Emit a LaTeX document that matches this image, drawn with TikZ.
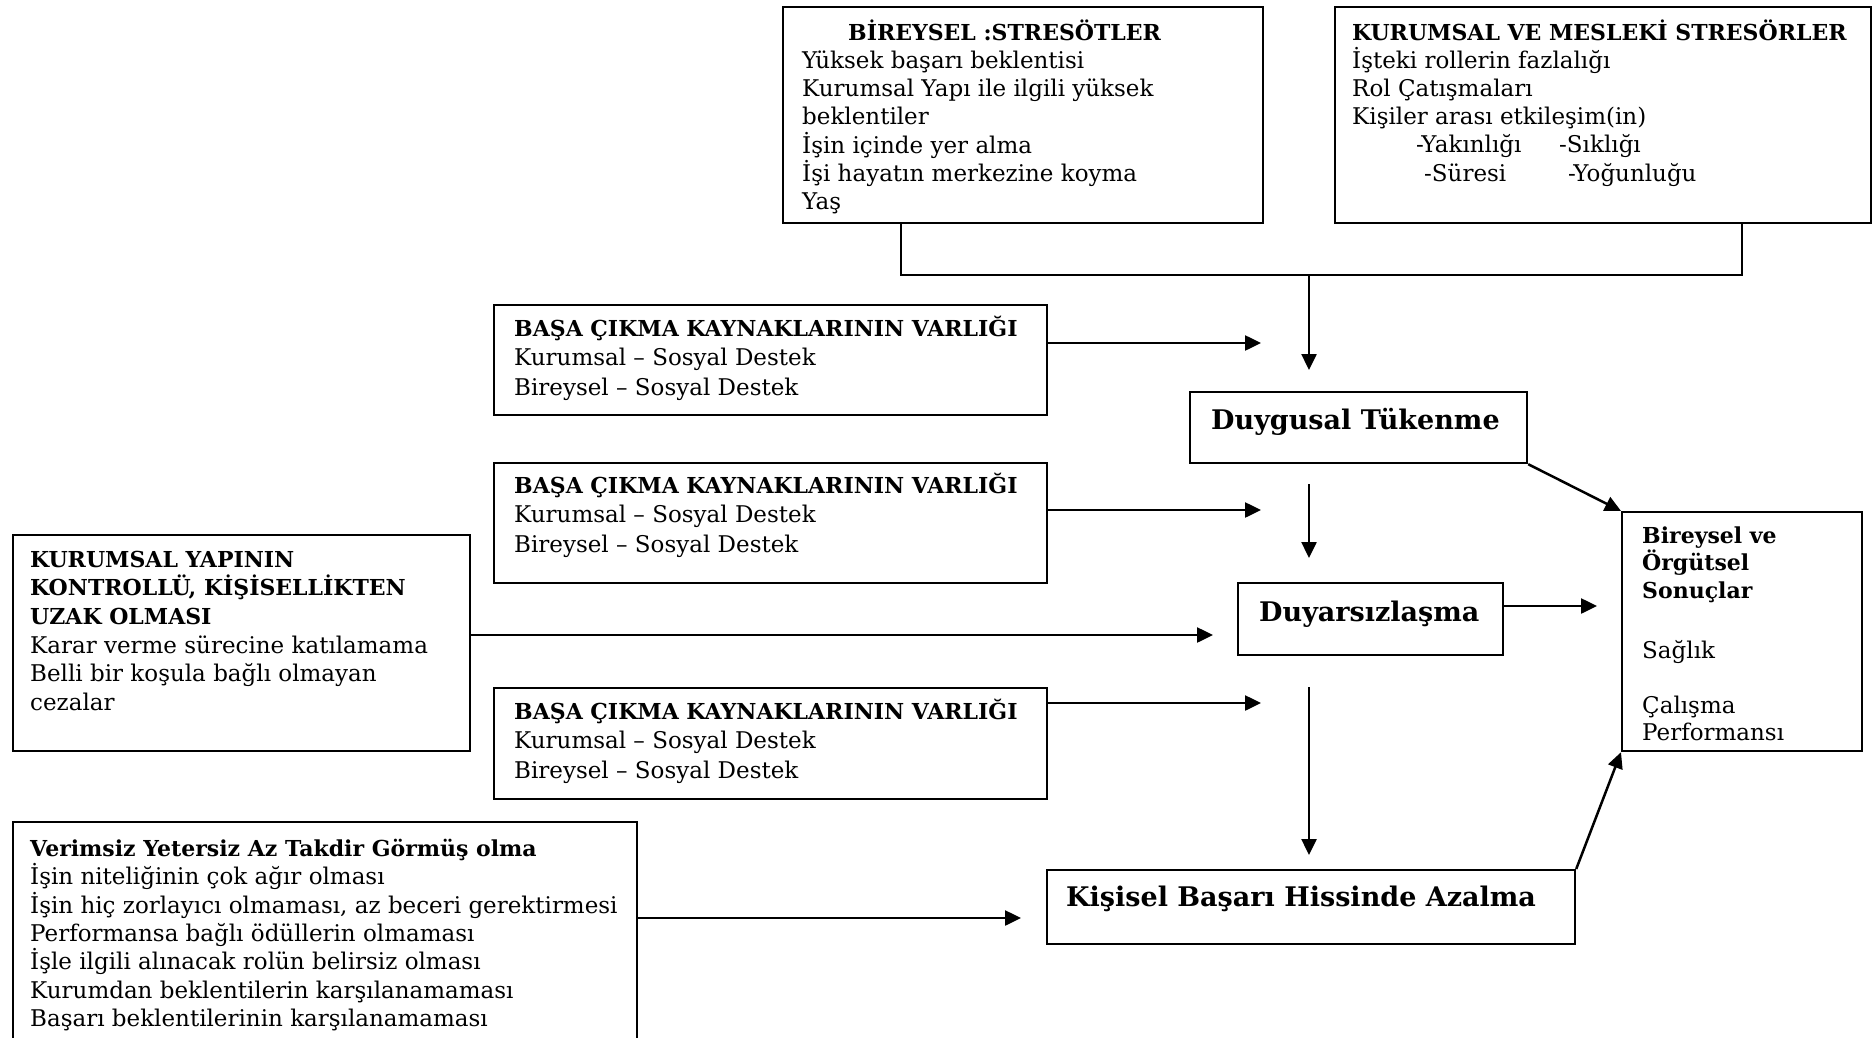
\documentclass[tikz,border=0pt]{standalone}
\usepackage{fontspec}
\setmainfont{DejaVu Serif}
\usetikzlibrary{arrows.meta}
\newcommand{\rfs}{\fontsize{23}{28.2}\selectfont}
\newcommand{\bfs}{\fontsize{22}{28.2}\selectfont\bfseries}
\newcommand{\hfs}{\fontsize{27}{30}\selectfont\bfseries}
\newcommand{\tstrut}{\rule{0pt}{26pt}}
\tikzset{
  box/.style={draw, line width=2.2pt, inner sep=0pt, anchor=north west},
  txt/.style={anchor=north west, inner sep=0pt, align=left, font=\rfs},
  head/.style={anchor=base west, inner sep=0pt, font=\hfs},
  conn/.style={line width=2.5pt},
  arr/.style={line width=2.5pt, -{Triangle[length=16pt,width=15pt]}},
}
\begin{document}
\begin{tikzpicture}[x=1pt,y=-1pt]
\useasboundingbox (0,0) rectangle (1872,1038);
% boxes
\node[box, minimum width=480pt, minimum height=216pt] (bind) at (782,6) {};
\node[box, minimum width=536pt, minimum height=216pt] (borg) at (1334,6) {};
\node[box, minimum width=553pt, minimum height=110pt] (cop1) at (493,304) {};
\node[box, minimum width=553pt, minimum height=120pt] (cop2) at (493,462) {};
\node[box, minimum width=553pt, minimum height=111pt] (cop3) at (493,687) {};
\node[box, minimum width=457pt, minimum height=216pt] (kyap) at (12,534) {};
\node[box, minimum width=624pt, minimum height=222pt] (verim) at (12,821) {};
\node[box, minimum width=337pt, minimum height=71pt] (dt) at (1189,391) {};
\node[box, minimum width=265pt, minimum height=72pt] (dy) at (1237,582) {};
\node[box, minimum width=528pt, minimum height=74pt] (kb) at (1046,869) {};
\node[box, minimum width=240pt, minimum height=239pt] (sonuc) at (1621,511) {};
% texts (top = first baseline - 26)
\node[txt] (bindt) at (802,14) {\tstrut\bfs\hspace*{46pt}BİREYSEL :STRESÖTLER\\
Yüksek başarı beklentisi\\
Kurumsal Yapı ile ilgili yüksek\\
beklentiler\\
İşin içinde yer alma\\
İşi hayatın merkezine koyma\\
Yaş};
\node[txt] (borgt) at (1352,14) {\tstrut\bfs KURUMSAL VE MESLEKİ STRESÖRLER\\
İşteki rollerin fazlalığı\\
Rol Çatışmaları\\
Kişiler arası etkileşim(in)\\
\hspace*{64pt}\makebox[143pt][l]{-Yakınlığı}-Sıklığı\\
\hspace*{72pt}\makebox[144pt][l]{-Süresi}-Yoğunluğu};
\node[txt, font=\fontsize{23}{29.6}\selectfont] (cop1t) at (514,310) {\tstrut\bfs BAŞA ÇIKMA KAYNAKLARININ VARLIĞI\\
Kurumsal – Sosyal Destek\\
Bireysel – Sosyal Destek};
\node[txt, font=\fontsize{23}{29.6}\selectfont] (cop2t) at (514,467) {\tstrut\bfs BAŞA ÇIKMA KAYNAKLARININ VARLIĞI\\
Kurumsal – Sosyal Destek\\
Bireysel – Sosyal Destek};
\node[txt, font=\fontsize{23}{29.6}\selectfont] (cop3t) at (514,693) {\tstrut\bfs BAŞA ÇIKMA KAYNAKLARININ VARLIĞI\\
Kurumsal – Sosyal Destek\\
Bireysel – Sosyal Destek};
\node[txt, font=\fontsize{23}{28.6}\selectfont] (kyapt) at (30,541) {\tstrut\bfs KURUMSAL YAPININ\\
\bfs KONTROLLÜ, KİŞİSELLİKTEN\\
\bfs UZAK OLMASI\\
Karar verme sürecine katılamama\\
Belli bir koşula bağlı olmayan\\
cezalar};
\node[txt, font=\fontsize{23}{28.4}\selectfont] (verimt) at (30,830) {\tstrut\bfs Verimsiz Yetersiz Az Takdir Görmüş olma\\
İşin niteliğinin çok ağır olması\\
İşin hiç zorlayıcı olmaması, az beceri gerektirmesi\\
Performansa bağlı ödüllerin olmaması\\
İşle ilgili alınacak rolün belirsiz olması\\
Kurumdan beklentilerin karşılanamaması\\
Başarı beklentilerinin karşılanamaması};
\node[txt, font=\fontsize{23}{27.5}\selectfont] (sonuct) at (1642,517) {\tstrut\bfs Bireysel ve\\
\bfs Örgütsel\\
\bfs Sonuçlar\\[32.5pt]
Sağlık\\[27.5pt]
Çalışma\\
Performansı};
\node[head] (dtt) at (1211,429) {Duygusal Tükenme};
\node[head] (dyt) at (1259,621) {Duyarsızlaşma};
\node[head] (kbt) at (1066,906) {Kişisel Başarı Hissinde Azalma};
% connector coordinates
\coordinate (j1) at (901,275);
\coordinate (j2) at (1742,275);
\coordinate (j0) at (1309,275);
\coordinate (t0) at (1309,370);
\coordinate (t1) at (1261,343);
\coordinate (t2) at (1261,510);
\coordinate (t3) at (1261,703);
\coordinate (tk) at (1213,635);
\coordinate (s2) at (1309,484);
\coordinate (e2) at (1309,558);
\coordinate (s3) at (1309,687);
\coordinate (e3) at (1309,855);
\coordinate (tdy) at (1597,606);
\coordinate (tv) at (1021,918);
% connectors
\draw[conn] (bind.south -| j1) -- (j1) -- (j2) -- (borg.south -| j2);
\draw[arr] (j0) -- (t0);
\draw[arr] (cop1.east |- t1) -- (t1);
\draw[arr] (cop2.east |- t2) -- (t2);
\draw[arr] (cop3.east |- t3) -- (t3);
\draw[arr] (kyap.east |- tk) -- (tk);
\draw[arr] (s2) -- (e2);
\draw[arr] (s3) -- (e3);
\draw[arr] (dy.east |- tdy) -- (tdy);
\draw[arr] (verim.east |- tv) -- (tv);
\draw[arr] (dt.south east) -- (sonuc.north west);
\draw[arr] (kb.north east) -- (sonuc.south west);
\end{tikzpicture}
\end{document}
